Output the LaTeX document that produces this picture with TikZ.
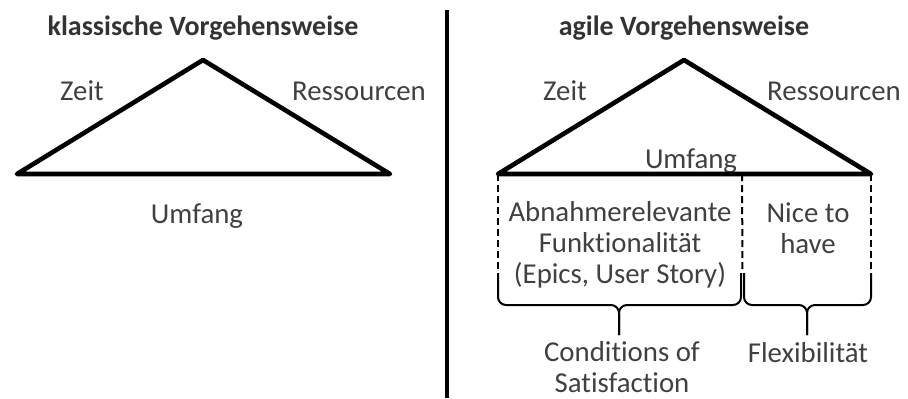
\documentclass[tikz,border=0pt]{standalone}
\usepackage{fontspec}
\setmainfont[Ligatures=NoCommon]{Carlito}
\usepackage{tikz}
\usetikzlibrary{calc}
\definecolor{textgray}{HTML}{404040}

\begin{document}
\begin{tikzpicture}[x=0.5pt,y=-0.5pt,
  lbl/.style={text=textgray,font=\fontsize{14.4}{15.5}\selectfont,align=center,inner sep=0pt,anchor=base},
  ttl/.style={lbl,font=\fontsize{14}{15.5}\selectfont\bfseries,text=black!80},
  edge/.style={line width=2.3pt,line join=round},
  cut/.style={line width=1pt,dash pattern=on 3.5pt off 2pt},
  brc/.style={line width=1pt,rounded corners=4pt}]
  \useasboundingbox (0,0) rectangle (908,398);
  % klassische Vorgehensweise
  \coordinate (kl) at (17,174);
  \coordinate (kt) at (203,60);
  \coordinate (kr) at (390,174);
  \draw[edge] (kl) -- (kt) -- (kr) -- cycle;
  \node[ttl] (ktitle) at (203,35) {klassische Vorgehensweise};
  \node[lbl] (kzeit) at (82,100) {Zeit};
  \node[lbl] (kres) at (359,100) {Ressourcen};
  \node[lbl] (kumf) at (197,223) {Umfang};
  % Trennlinie
  \coordinate (dtop) at (447,10);
  \coordinate (dbot) at (447,398);
  \draw[line width=2.2pt] (dtop) -- (dbot);
  % agile Vorgehensweise
  \coordinate (al) at (498,174);
  \coordinate (at) at (684,60);
  \coordinate (ar) at (871,174);
  \coordinate (am) at (742,174);
  \node[ttl] (atitle) at (684,35) {agile Vorgehensweise};
  \node[lbl] (azeit) at (565,100) {Zeit};
  \node[lbl] (ares) at (834,100) {Ressourcen};
  \node[lbl] (aumf) at (691,168) {Umfang};
  \draw[edge] (al) -- (at) -- (ar) -- cycle;
  % Aufteilung Umfang
  \coordinate (bl1) at (498,273);
  \coordinate (br1) at (741,273);
  \coordinate (bl2) at (744,273);
  \coordinate (br2) at (871,273);
  \coordinate (bm1) at (619,305);
  \coordinate (tip1) at (619,335);
  \coordinate (bm2) at (807,305);
  \coordinate (tip2) at (807,335);
  \draw[cut] (al) -- (bl1);
  \draw[cut] (am) -- ($(br1)!0.5!(bl2)$);
  \draw[cut] (ar) -- (br2);
  \draw[brc] (bl1) -- (bl1 |- bm1) -- (bm1) -- (tip1);
  \draw[brc] (br1) -- (br1 |- bm1) -- (bm1) -- (tip1);
  \draw[brc] (bl2) -- (bl2 |- bm2) -- (bm2) -- (tip2);
  \draw[brc] (br2) -- (br2 |- bm2) -- (bm2) -- (tip2);
  \node[lbl] (muss) at (620,283) {Abnahmerelevante\\Funktionalität\\(Epics, User Story)};
  \node[lbl] (nice) at (808,253) {Nice to\\have};
  \node[lbl] (cos) at (622,392) {Conditions of\\Satisfaction};
  \node[lbl] (flex) at (808,362) {Flexibilität};
\end{tikzpicture}
\end{document}
